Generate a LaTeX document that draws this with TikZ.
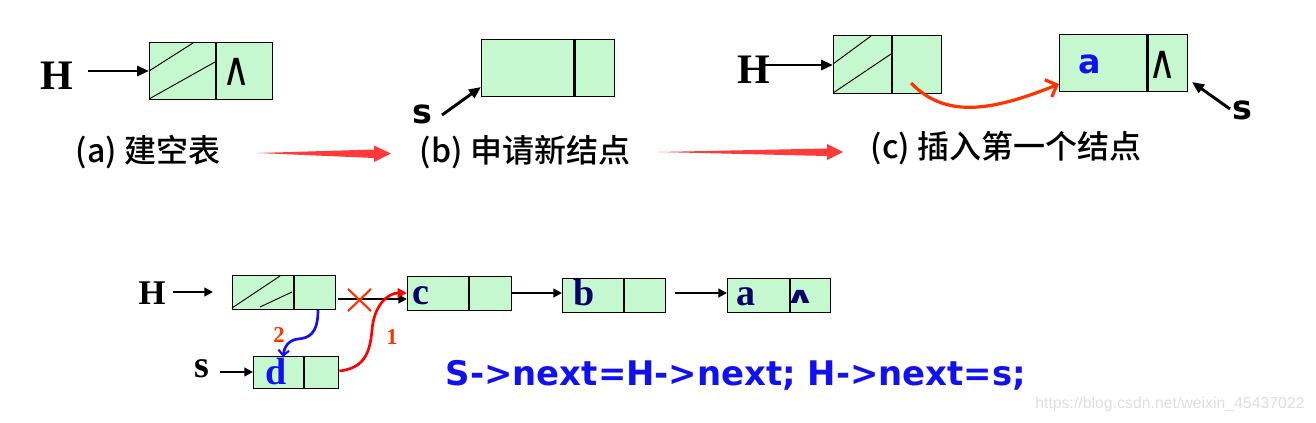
\documentclass[tikz,border=0pt]{standalone}
\usepackage{fontspec}
\setmainfont{Liberation Serif}
\newfontfamily\cjk{Noto Sans CJK SC Medium}
\newfontfamily\dvs{DejaVu Sans}
\newfontfamily\wmfont{Liberation Sans}
\usetikzlibrary{arrows.meta}
\definecolor{ngreen}{RGB}{198,248,208}
\definecolor{navy}{RGB}{0,0,102}
\definecolor{oran}{RGB}{255,51,0}
\definecolor{rarrow}{RGB}{255,58,58}
\definecolor{codeblue}{RGB}{16,16,240}
\definecolor{wmgray}{RGB}{222,222,222}
\newcommand\pw[1]{#1*0.75pt}
\newcommand\nullsym{\scalebox{0.9}[1.1]{∧}}
\newcommand\lbox[6]{%
  \node[cell, anchor=north west, minimum width=\pw{#4}, minimum height=\pw{#6}] (#1D) at (#2,#3) {};
  \node[cell, anchor=north west, minimum width=\pw{#5}, minimum height=\pw{#6}] (#1P) at (#1D.north east) {};}
\begin{document}
\begin{tikzpicture}[x=0.75pt,y=-0.75pt,
  cell/.style={draw, fill=ngreen, line width=0.9pt, inner sep=0pt},
  lbl/.style={inner sep=0pt},
  bigH/.style={inner sep=0pt, font=\bfseries\fontsize{31.5}{34}\selectfont},
  smH/.style={inner sep=0pt, font=\bfseries\fontsize{26}{30}\selectfont},
  cjklbl/.style={inner sep=0pt, font=\cjk\fontsize{24}{27}\selectfont},
  sansS/.style={inner sep=0pt, font=\dvs\bfseries\fontsize{25}{28}\selectfont},
  serifL/.style={inner sep=0pt, font=\bfseries\fontsize{28.5}{32}\selectfont},
  nul/.style={inner sep=0pt, font=\dvs\fontsize{32}{34}\selectfont},
  numlbl/.style={inner sep=0pt, text=oran, font=\bfseries\fontsize{17}{20}\selectfont},
  blk/.style={line width=2.2pt, -{Triangle[length=9pt,width=7.5pt]}},
  blk2/.style={line width=2pt, -{Triangle[length=6.5pt,width=6.5pt]}},
  thickdiv/.style={line width=2.4pt},
  hatch/.style={line width=0.7pt}]
\useasboundingbox (0,0) rectangle (1316,422);

% ---------- (a) ----------
\node[bigH] (Ha) at (57,76) {H};
\lbox{a}{149}{42}{66}{56}{57}
\draw[hatch] (149,71) -- (193,43);
\draw[hatch] (149,99) -- (215,62);
\node[nul] (nulA) at (237,72) {\nullsym};
\draw[blk] (88,71) -- (aD.west |- 0,71);
\node[cjklbl] (la) at (148,152) {(a) 建空表};

% big red arrow a -> b
\fill[rarrow] (258,153) -- (374,149.5) -- (374,145.5) -- (391,153.5) -- (374,162) -- (374,158) -- cycle;

% ---------- (b) ----------
\lbox{b}{481}{39}{92}{40}{57}
\draw[thickdiv] (bD.north east) -- (bD.south east);
\node[sansS] (sb) at (422,114) {s};
\coordinate (sbTip) at (481,87);
\draw[blk] (442,115) -- (sbTip);
\node[cjklbl] (lb) at (525,152) {(b) 申请新结点};

% big red arrow b -> c
\fill[rarrow] (658,152) -- (827,148.5) -- (827,144) -- (843,152) -- (827,160) -- (827,156) -- cycle;

% ---------- (c) ----------
\node[bigH] (Hc) at (754,70) {H};
\lbox{c1}{833}{35}{58}{49}{58}
\draw[hatch] (833,64) -- (871,36);
\draw[hatch] (833,93) -- (891,54);
\draw[blk] (764,65) -- (c1D.west |- 0,65);
\lbox{c2}{1059}{34}{87}{40}{57}
\draw[thickdiv] (c2D.north east) -- (c2D.south east);
\node[sansS, text=codeblue] (ac) at (1090,64) {a};
\node[nul] (nulC) at (1163,65) {\nullsym};
\node[sansS] (sc) at (1242,110) {s};
\draw[blk] (1230,109) -- (1192,82);
\draw[oran, line width=2.4pt, -{Straight Barb[length=7pt,width=14pt,line width=2.4pt]}]
  (911,83) .. controls (945,118) and (990,112) .. (c2D.west |- 0,84);
\node[cjklbl] (lc) at (1006,148) {(c) 插入第一个结点};

% ---------- bottom ----------
\node[smH] (Hd) at (152,293) {H};
\draw[blk2] (173,292) -- (213,292);
\lbox{h}{232}{275}{61}{41}{34}
\draw[hatch] (232,308) -- (280,276);
\draw[hatch] (260,307) -- (292,292);

\lbox{cc}{407}{276}{61}{42}{34}
\node[serifL, text=navy] (ct) at (421,296) {c};
\lbox{bb}{562}{278}{61}{41}{34}
\node[serifL, text=navy] (bt) at (584,292) {b};
\lbox{aa}{727}{278}{62}{40}{34}
\node[serifL, text=navy] (at) at (746,297) {a};
\node[inner sep=0pt, text=navy, font=\dvs\bfseries\fontsize{20}{22}\selectfont] (nulD) at (800,297) {\scalebox{1.4}[0.85]{∧}};

\draw[blk2] (338,299) -- (ccD.west |- 0,299);
\draw[blk2] (ccP.east |- 0,293) -- (bbD.west |- 0,293);
\draw[blk2] (675,293) -- (aaD.west |- 0,293);

% red cross
\draw[oran, line width=1.6pt] (348,289) -- (371,311) (348,311) -- (371,289);

\node[serifL] (sd) at (202,369) {s};
\lbox{d}{253}{356}{50}{34}{32}
\draw[blk2] (220,372) -- (dD.west |- 0,372);
\node[serifL, text=codeblue] (dt) at (276,371) {d};

% curve 2 (blue)
\draw[codeblue, line width=2pt, -{Straight Barb[length=4pt,width=8pt,line width=1.6pt]}]
  (318,310) .. controls (318,335) and (308,338) .. (298,339) .. controls (288,340) and (284,348) .. (283,357);
\node[numlbl] (n2) at (279,335) {2};

% curve 1 (red)
\draw[red, line width=2pt, -{Triangle[length=7pt,width=7pt]}]
  (dP.east |- 0,371) .. controls (365,368) and (370,352) .. (372,330) .. controls (374,305) and (388,293) .. (ccD.west |- 0,293);
\node[numlbl] (n1) at (392,337) {1};

% code line
\node[inner sep=0pt, text=codeblue, font=\dvs\bfseries] (code) at (736,375)
  {\resizebox{435pt}{!}{S->next=H->next; H->next=s;}};

% watermark
\node[inner sep=0pt, text=wmgray, font=\wmfont] (wm) at (1170,404)
  {\resizebox{202pt}{!}{https://blog.csdn.net/weixin\_45437022}};
\end{tikzpicture}
\end{document}
